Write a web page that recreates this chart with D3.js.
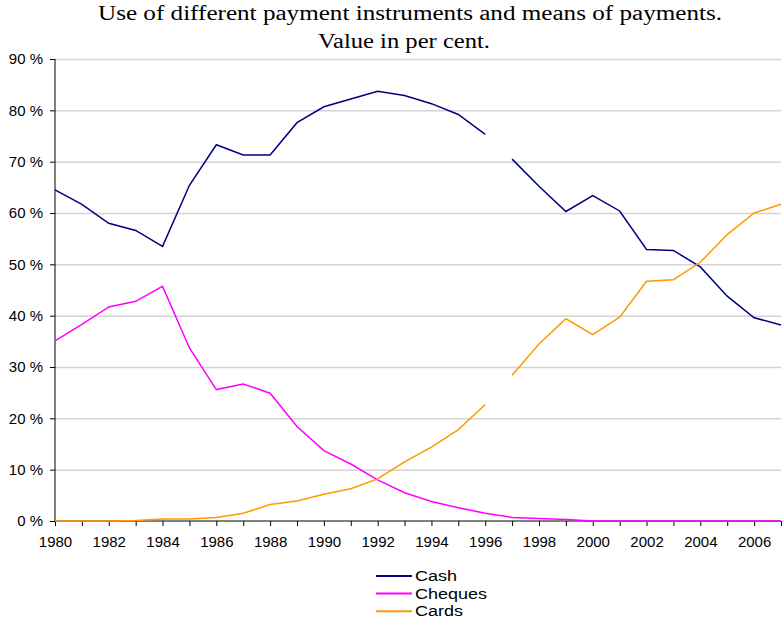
<!DOCTYPE html>
<html>
<head>
<meta charset="utf-8">
<script src="https://cdn.jsdelivr.net/npm/d3@7/dist/d3.min.js"></script>
<style>
  body { margin: 0; background: #fff; }
  .title { font-family: "Liberation Serif", "Times New Roman", serif; font-size: 20px; fill: #000; }
  .axis text { font-family: "Liberation Sans", Arial, sans-serif; font-size: 15px; fill: #000; }
  .axis .domain { stroke: #000; }
  .axis line { stroke: #000; }
  .grid line { stroke: #d4d4d4; stroke-width: 1.5; }
  .grid .domain { display: none; }
  .legend text { font-family: "Liberation Sans", Arial, sans-serif; font-size: 15px; fill: #000; }
</style>
</head>
<body>
<svg class="chart"></svg>
<script>
// values, per cent of payment value
var years = d3.range(1980, 2008);
var cash = [64.5, 61.7, 58.0, 56.6, 53.5, 65.4, 73.3, 71.3, 71.3, 77.6,
            80.7, 82.2, 83.7, 82.9, 81.3, 79.2, 75.3, 70.5, 65.2, 60.3,
            63.4, 60.4, 52.9, 52.7, 49.5, 43.8, 39.6, 38.2];
var cheques = [35.1, 38.3, 41.7, 42.8, 45.7, 33.7, 25.6, 26.7, 24.9, 18.4,
               13.7, 11.1, 8.0, 5.5, 3.8, 2.6, 1.5, 0.7, 0.5, 0.3,
               0, 0, 0, 0, 0, 0, 0, 0];
var cards = [0, 0, 0, 0.1, 0.4, 0.4, 0.7, 1.5, 3.2, 3.9,
             5.2, 6.3, 8.2, 11.5, 14.4, 17.8, 22.7, 28.4, 34.5, 39.4,
             36.3, 39.7, 46.7, 47.0, 50.4, 55.8, 60.0, 61.7];
var seriesNames = ['Cash', 'Cheques', 'Cards'];
var seriesColors = ['#000080', '#ff00ff', '#ff9900'];
// cash and cards lines are broken between 1996 and 1997
var breakYear = [1997, null, 1997];
var yTicks = [0, 10, 20, 30, 40, 50, 60, 70, 80, 90];
var xLabelYears = d3.range(1980, 2008, 2);
var titleLines = ['Use of different payment instruments and means of payments.', 'Value in per cent.'];

var margin = {top: 59, right: 2, bottom: 98, left: 55},
	width = 783 - margin.left - margin.right,
	height = 619 - margin.top - margin.bottom;

var chart = d3.select('.chart')
	.attr('width', 783)
	.attr('height', 619);

// title is drawn wide in the original, stretch to fit
var titleWidth = [624, 172];
chart.selectAll('.title')
	.data(titleLines)
  .enter().append('text')
	.attr('class', 'title')
	.attr('x', function(d, i) { return i ? 404 : 410; })
	.attr('y', function(d, i) { return 20 + i * 28; })
	.attr('text-anchor', 'middle')
	.attr('textLength', function(d, i) { return titleWidth[i]; })
	.attr('lengthAdjust', 'spacingAndGlyphs')
	.text(function(d) { return d; });

var g = chart.append('g')
	.attr('transform', 'translate(' + margin.left + ',' + margin.top + ')');

var x = d3.scaleLinear().domain([1980, 2007]).range([0, width]),
	y = d3.scaleLinear().domain([0, 90]).range([height, 0]);

// gridlines
g.append('g')
	.attr('class', 'grid')
	.call(d3.axisLeft(y).tickValues(yTicks.slice(1)).tickSize(-width).tickFormat(''));

// y axis
g.append('g')
	.attr('class', 'axis')
	.call(d3.axisLeft(y).tickValues(yTicks).tickSize(5).tickPadding(7)
		.tickFormat(function(d) { return d + ' %'; }))
	.call(function(a) { a.select('.domain').attr('d', 'M0,0V' + height); });

// x axis: tick every year, label every other year
g.append('g')
	.attr('class', 'axis')
	.attr('transform', 'translate(0,' + height + ')')
	.call(d3.axisBottom(x).tickValues(years).tickSize(5).tickPadding(10)
		.tickFormat(function(d) { return xLabelYears.indexOf(d) >= 0 ? d : ''; }))
	.call(function(a) { a.select('.domain').attr('d', 'M0,0H' + width); });

var line = d3.line()
	.x(function(d) { return x(d.year); })
	.y(function(d) { return y(d.value); });

[cash, cheques, cards].forEach(function(vals, i) {
	var pts = years.map(function(yr, j) { return {year: yr, value: vals[j]}; });
	var parts = breakYear[i] ? [pts.filter(function(d) { return d.year < breakYear[i]; }),
	                            pts.filter(function(d) { return d.year >= breakYear[i]; })] : [pts];
	parts.forEach(function(p) {
		g.append('path')
			.datum(p)
			.attr('fill', 'none')
			.attr('stroke', seriesColors[i])
			.attr('stroke-width', 1.5)
			.attr('d', line);
	});
});

// legend
var legend = chart.append('g')
	.attr('class', 'legend')
	.attr('transform', 'translate(376,576)');

var item = legend.selectAll('g')
	.data(seriesNames)
  .enter().append('g')
	.attr('transform', function(d, i) { return 'translate(0,' + i * 17.6 + ')'; });

item.append('line')
	.attr('x1', 0).attr('x2', 36)
	.attr('stroke', function(d, i) { return seriesColors[i]; })
	.attr('stroke-width', 2);

// legend labels are wide in the original
item.append('text')
	.attr('transform', 'translate(39,5) scale(1.2,1)')
	.text(function(d) { return d; });
</script>
</body>
</html>
